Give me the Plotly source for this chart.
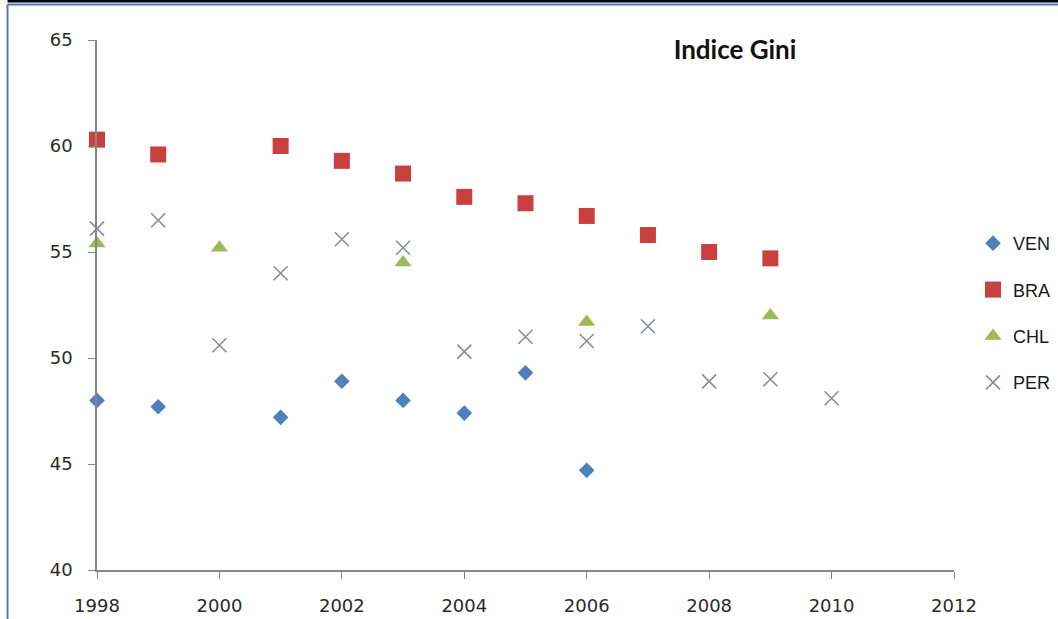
import plotly.graph_objects as go

# Gini index by country and year
ven_years = [1998, 1999, 2001, 2002, 2003, 2004, 2005, 2006]
ven_vals = [48.0, 47.7, 47.2, 48.9, 48.0, 47.4, 49.3, 44.7]

bra_years = [1998, 1999, 2001, 2002, 2003, 2004, 2005, 2006, 2007, 2008, 2009]
bra_vals = [60.3, 59.6, 60.0, 59.3, 58.7, 57.6, 57.3, 56.7, 55.8, 55.0, 54.7]

chl_years = [1998, 2000, 2003, 2006, 2009]
chl_vals = [55.4, 55.2, 54.5, 51.7, 52.0]

per_years = [1998, 1999, 2000, 2001, 2002, 2003, 2004, 2005, 2006, 2007, 2008, 2009, 2010]
per_vals = [56.1, 56.5, 50.6, 54.0, 55.6, 55.2, 50.3, 51.0, 50.8, 51.5, 48.9, 49.0, 48.1]

x_ticks = [1998, 2000, 2002, 2004, 2006, 2008, 2010, 2012]
y_ticks = [40, 45, 50, 55, 60, 65]

fig = go.Figure()
series = [
    ("VEN", ven_years, ven_vals, dict(symbol="diamond", size=12, color="#4F7FBD")),
    ("BRA", bra_years, bra_vals, dict(symbol="square", size=16, color="#C9403F")),
    ("CHL", chl_years, chl_vals, dict(symbol="triangle-up", size=15, color="#9BBB59")),
    ("PER", per_years, per_vals, dict(symbol="x-thin", size=14, color="#8A8C99",
                                      line=dict(width=1.6, color="#8A8C99"))),
]
for name, xs, ys, mk in series:
    fig.add_trace(go.Scatter(x=xs, y=ys, mode="markers", name=name, marker=mk,
                             legendgroup=name, cliponaxis=False))

# border of the chart area
frame = "#4A7EBB"
fig.add_shape(type="line", xref="paper", yref="paper", x0=-0.1044, x1=1.25,
              y0=1.0736, y1=1.0736, line=dict(color="#000000", width=3))
fig.add_shape(type="line", xref="paper", yref="paper", x0=-0.1044, x1=1.25,
              y0=1.0670, y1=1.0670, line=dict(color=frame, width=2))
fig.add_shape(type="line", xref="paper", yref="paper", x0=-0.1044, x1=-0.1044,
              y0=1.0670, y1=-0.2, line=dict(color=frame, width=2))

axis_color = "#868686"
tick_font = dict(family="DejaVu Sans", size=18, color="#2A2A2A")
fig.update_xaxes(range=[1998, 2012], tickvals=x_ticks, ticks="outside", ticklen=7,
                 tickcolor=axis_color, showline=True, linecolor=axis_color, linewidth=1.5,
                 showgrid=False, zeroline=False, ticklabelstandoff=12, automargin=False,
                 tickfont=tick_font)
fig.update_yaxes(range=[40, 65], tickvals=y_ticks, ticks="outside", ticklen=7,
                 tickcolor=axis_color, showline=True, linecolor=axis_color, linewidth=1.5,
                 showgrid=False, zeroline=False, ticklabelstandoff=12, automargin=False,
                 tickfont=tick_font)

fig.update_layout(
    width=1058, height=619,
    margin=dict(l=97, r=104, t=40, b=49, autoexpand=False),
    paper_bgcolor="white", plot_bgcolor="white",
    title=dict(text="<b>Indice Gini</b>", x=0.7445, xanchor="center", y=0.920, yanchor="middle",
               xref="paper", yref="container",
               font=dict(family="Lato", size=26, color="#111111")),
    legend=dict(x=1.0222, xanchor="left", y=0.651, yanchor="top",
                font=dict(family="Liberation Sans", size=18, color="#1A1A1A"),
                tracegroupgap=20, itemwidth=30, bgcolor="rgba(0,0,0,0)"),
)

fig.write_html("out.html")
